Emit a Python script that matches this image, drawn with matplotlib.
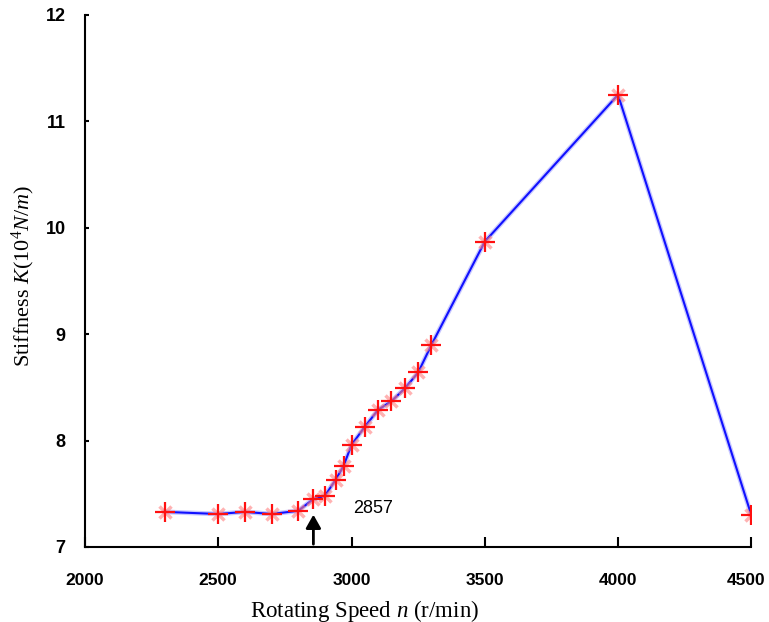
import matplotlib
matplotlib.use("Agg")
import matplotlib.pyplot as plt
from matplotlib.transforms import ScaledTranslation

speed = [2300, 2500, 2600, 2700, 2800, 2857, 2900, 2940, 2970, 3000,
         3050, 3100, 3150, 3200, 3250, 3300, 3500, 4000, 4500]
stiffness = [7.33, 7.31, 7.33, 7.31, 7.34, 7.45, 7.48, 7.63, 7.76, 7.96,
             8.13, 8.29, 8.37, 8.49, 8.64, 8.90, 9.87, 11.25, 7.30]
xticks = [2000, 2500, 3000, 3500, 4000, 4500]
yticks = [7, 8, 9, 10, 11, 12]
critical_speed = 2857

plt.rcParams['mathtext.fontset'] = 'custom'
plt.rcParams['mathtext.rm'] = 'Liberation Serif'
plt.rcParams['mathtext.it'] = 'Liberation Serif:italic'

fig = plt.figure(figsize=(7.69, 6.22), dpi=100)
ax = fig.add_axes([0.1105, 0.1206, 0.8665, 0.8553])

ax.plot(speed, stiffness, color='#6060ff', lw=3.4, alpha=0.35, zorder=2)
ax.plot(speed, stiffness, color='#1010ff', lw=1.5, zorder=3)
ax.plot(speed, stiffness, linestyle='none', marker='x', ms=9, mew=2.5,
        color='#ff8080', alpha=0.6, zorder=4)
ax.plot(speed, stiffness, linestyle='none', marker='+', ms=14, mew=1.6,
        color='#ff1010', zorder=5)

ax.set_xlim(2000, 4500)
ax.set_ylim(7, 12)
ax.set_xticks(xticks)
ax.set_yticks(yticks)
ax.spines['top'].set_visible(False)
ax.spines['right'].set_visible(False)
for s in ('left', 'bottom'):
    ax.spines[s].set_linewidth(1.5)
ax.tick_params(axis='x', direction='in', length=7, width=1.5, pad=19,
               labelsize=12.5)
ax.tick_params(axis='y', direction='in', length=3, width=1.5, pad=14,
               labelsize=13)
for lab in ax.get_xticklabels() + ax.get_yticklabels():
    lab.set_fontfamily('Liberation Sans')
    lab.set_fontweight('bold')
last = ax.get_xticklabels()[-1]
last.set_transform(last.get_transform()
                   + ScaledTranslation(-4 / 72, 0, fig.dpi_scale_trans))

ax.annotate('', xy=(critical_speed, 7.33), xytext=(critical_speed, 7.0),
            arrowprops=dict(arrowstyle='-|>,head_length=0.8,head_width=0.45',
                            color='black', lw=2), zorder=6)
ax.text(3080, 7.36, str(critical_speed), fontsize=13, family='Liberation Sans',
        ha='center', va='center')

ax.set_xlabel('Rotating Speed $n$ (r/min)', fontsize=16.5,
              family='Liberation Serif')
ax.xaxis.set_label_coords(0.42, -0.095)
ax.set_ylabel('Stiffness $K$(10$^4$$N/m$)', fontsize=16,
              family='Liberation Serif')
ax.yaxis.set_label_coords(-0.072, 0.51)

fig.savefig('out.png', dpi=100)
